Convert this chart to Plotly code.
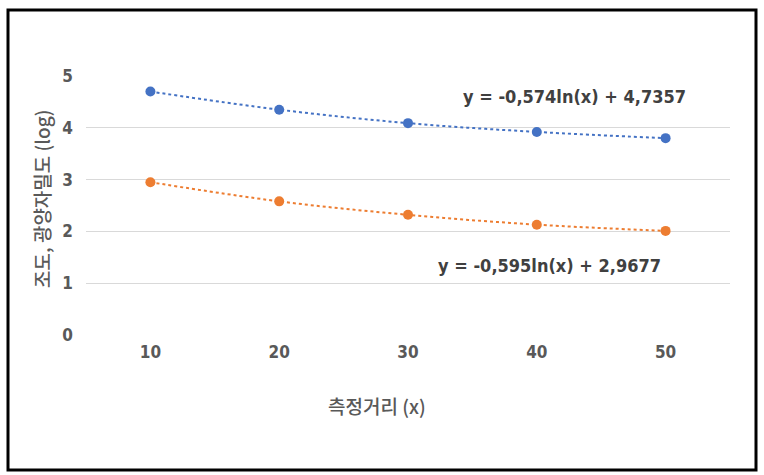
import plotly.graph_objects as go

categories = ["10", "20", "30", "40", "50"]
series_a = [4.70, 4.35, 4.09, 3.92, 3.80]
series_b = [2.95, 2.58, 2.32, 2.13, 2.01]
eq_a = "y = -0,574ln(x) + 4,7357"
eq_b = "y = -0,595ln(x) + 2,9677"
y_ticks = [0, 1, 2, 3, 4, 5]
x_title = "측정거리 (x)"
y_title = "조도, 광양자밀도 (log)"

FONT = "Noto Sans CJK KR"
NUMFONT = "DejaVu Sans Condensed"
GRAY = "#595959"
W, H = 764, 475
L, R, T, B = 86, 34, 76, 140
PW, PH = W - L - R, H - T - B

def px(x):
    return (x - L) / PW

def py(y):
    return (H - B - y) / PH

fig = go.Figure()
for vals, col in [(series_a, "#4472C4"), (series_b, "#ED7D31")]:
    fig.add_trace(go.Scatter(
        x=categories, y=vals, mode="lines+markers",
        line=dict(color=col, width=2, dash="dot", shape="spline"),
        marker=dict(color=col, size=10),
        showlegend=False,
    ))

fig.add_annotation(x=3.29, y=4.61, xref="x", yref="y", text=eq_a, showarrow=False,
                   xanchor="center", yanchor="middle",
                   font=dict(family=NUMFONT, size=18, color="#404040", weight="bold"))
fig.add_annotation(x=3.10, y=1.35, xref="x", yref="y", text=eq_b, showarrow=False,
                   xanchor="center", yanchor="middle",
                   font=dict(family=NUMFONT, size=18, color="#404040", weight="bold"))

fig.add_annotation(x=px(377), y=py(405), xref="paper", yref="paper", text=x_title,
                   showarrow=False, xanchor="center", yanchor="middle",
                   font=dict(family=FONT, size=19, color=GRAY, weight=500))
fig.add_annotation(x=px(41), y=py(199), xref="paper", yref="paper", text=y_title,
                   showarrow=False, textangle=-90, xanchor="center", yanchor="middle",
                   font=dict(family=FONT, size=19, color=GRAY, weight=500))

fig.add_shape(type="rect", xref="paper", yref="paper",
              x0=px(8), x1=px(756), y0=py(470), y1=py(10),
              line=dict(color="black", width=3))

fig.update_layout(
    width=W, height=H,
    margin=dict(l=L, r=R, t=T, b=B),
    paper_bgcolor="white", plot_bgcolor="white",
    font=dict(family=FONT, color=GRAY),
    xaxis=dict(type="category", range=[-0.5, 4.5], showgrid=False, zeroline=False,
               showline=False, ticks="",
               tickfont=dict(family=NUMFONT, size=17, color=GRAY, weight="bold"),
               ticklabelstandoff=5),
    yaxis=dict(range=[0, 5], tickvals=y_ticks, showgrid=True, gridcolor="#D9D9D9",
               gridwidth=1, zeroline=False, showline=False, ticks="",
               tickfont=dict(family=NUMFONT, size=17, color=GRAY, weight="bold"),
               ticklabelstandoff=12),
)

fig.write_html("out.html", config={"displayModeBar": False},
               post_script="document.body.style.margin='0px';")
